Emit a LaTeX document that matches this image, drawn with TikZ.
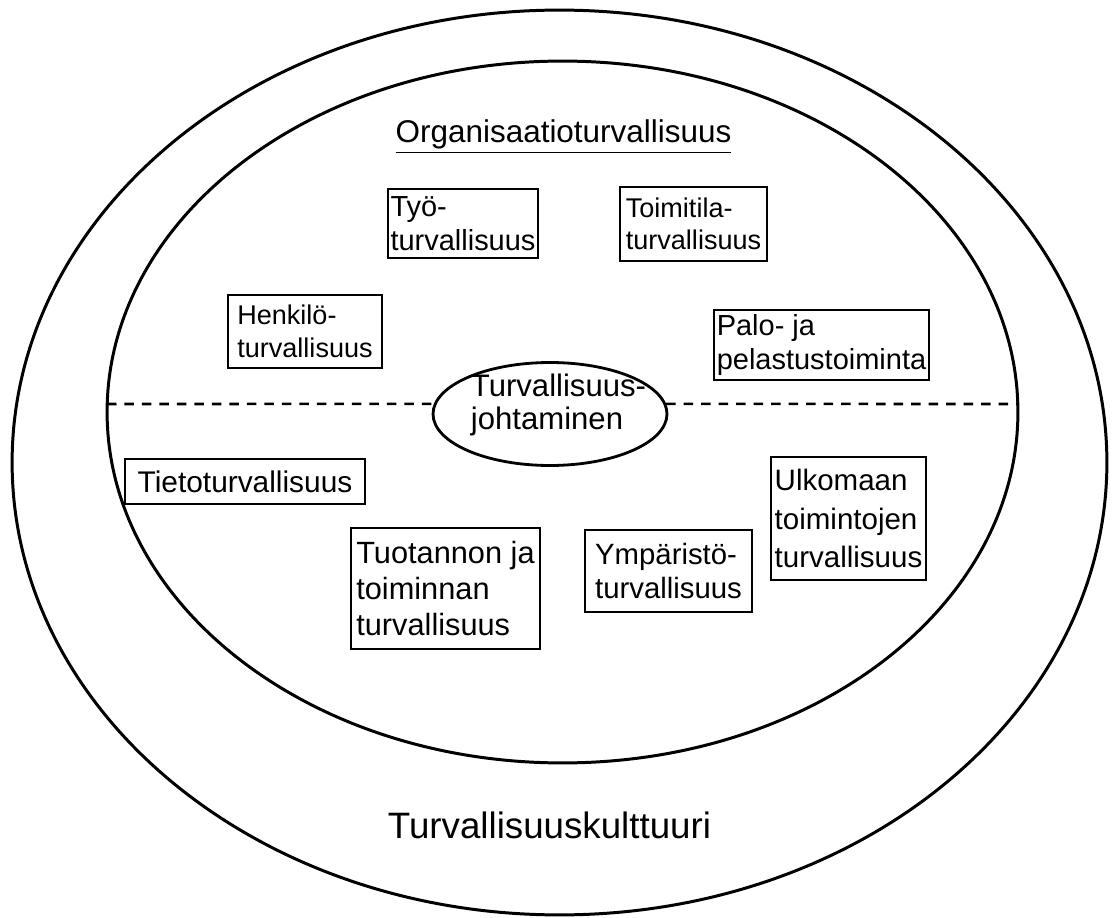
\documentclass[tikz,border=0pt]{standalone}
\usepackage{fontspec}
\setmainfont{Liberation Sans}
\usetikzlibrary{positioning}
\usetikzlibrary{calc}
\usetikzlibrary{shapes.geometric}

\begin{document}
\begin{tikzpicture}[x=0.02cm, y=-0.02cm]
    % picture size in pixels of the reference (1 unit = 1 pixel)
    \useasboundingbox (0, 0) rectangle (1115, 918);

    \tikzstyle{ring} = [draw=black, line width=1.7pt]
    \tikzstyle{dashline} = [draw=black, line width=1.5pt, dash pattern=on 0.19cm off 0.16cm]
    \tikzstyle{box} = [draw=black, rectangle, line width=0.9pt, inner xsep=0.04cm, inner ysep=0.03cm, align=left, font=\fontsize{16.5pt}{19pt}\selectfont]

    % outer ellipse (culture) and inner ellipse (organisation)
    \draw[ring] (559.5, 462.5) ellipse [x radius=10.95cm, y radius=9.05cm];
    \draw[ring] (562.5, 412) ellipse [x radius=9.11cm, y radius=7.02cm];

    % the management ellipse in the middle
    \node[ellipse, draw=black, line width=1.6pt, fill=white, minimum width=4.68cm, minimum height=2.06cm, inner sep=0] (johto) at (550, 414) {};
    \node[align=left, inner sep=0, font=\fontsize{17.7pt}{19.3pt}\selectfont] (johtoText) at (558.5, 405) {Turvallisuus-\\johtaminen};

    % dashed line split left and right of the middle ellipse
    \coordinate (dashL) at (107, 404);
    \coordinate (dashR) at (1018, 404);
    \draw[dashline] (dashL) -- (johto.175);
    \draw[dashline] (johto.5) -- (dashR);

    % titles
    \node[anchor=base, inner sep=0, font=\fontsize{17.9pt}{20pt}\selectfont] (org) at (563.5, 143) {\underline{Organisaatioturvallisuus}};
    \node[anchor=base, inner sep=0, font=\fontsize{20.9pt}{24pt}\selectfont] (kulttuuri) at (549.5, 838) {Turvallisuuskulttuuri};

    % upper half boxes
    \node[box, minimum width=3.0cm, minimum height=1.38cm] (tyo) at (463, 223.5) {Työ-\\turvallisuus};
    \node[box, minimum width=2.94cm, minimum height=1.48cm, font=\fontsize{15.4pt}{18.5pt}\selectfont] (toimitila) at (693.5, 224) {Toimitila-\\turvallisuus};
    \node[box, minimum width=3.08cm, minimum height=1.46cm, font=\fontsize{15.4pt}{18.5pt}\selectfont] (henkilo) at (305, 331.5) {Henkilö-\\turvallisuus};
    \node[box, minimum width=4.3cm, minimum height=1.4cm] (palo) at (821.5, 345) {Palo- ja\\pelastustoiminta};

    % lower half boxes
    \node[box, minimum width=4.8cm, minimum height=0.9cm, font=\fontsize{17pt}{19pt}\selectfont] (tieto) at (245, 481.5) {Tietoturvallisuus};
    \node[box, minimum width=3.78cm, minimum height=2.42cm, font=\fontsize{17.5pt}{20.7pt}\selectfont] (tuotanto) at (445.5, 588.5) {Tuotannon ja\\toiminnan\\turvallisuus};
    \node[box, minimum width=3.34cm, minimum height=1.64cm, font=\fontsize{16.7pt}{19.5pt}\selectfont] (ymparisto) at (668.5, 571) {Ympäristö-\\turvallisuus};
    \node[box, minimum width=3.1cm, minimum height=2.46cm, font=\fontsize{16.8pt}{22pt}\selectfont] (ulkomaa) at (848.5, 518.5) {Ulkomaan\\toimintojen\\turvallisuus};

\end{tikzpicture}
\end{document}
